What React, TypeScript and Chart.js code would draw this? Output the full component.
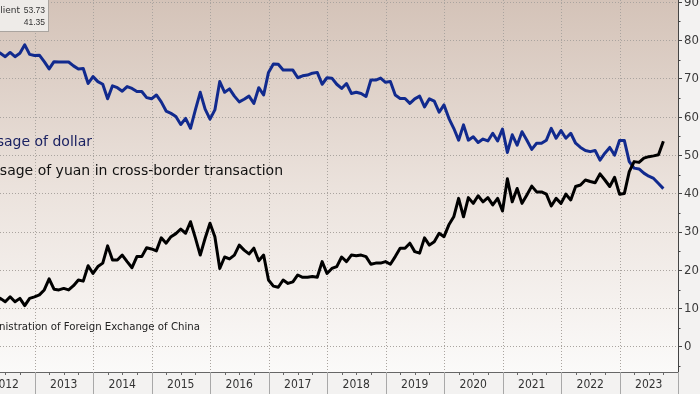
import React, { useEffect, useRef } from "react";
import { Chart, registerables } from "chart.js";

Chart.register(...registerables);

// Monthly data (month-end), starting April 2012
const START_YEAR = 2012;
const START_MONTH = 4;

const dollarShare: number[] = [
  77.5, 76.7, 75.8, 76.9, 75.8, 76.7, 78.9, 76.4, 76.1,
  76.2, 74.5, 72.6, 74.5, 74.4, 74.4, 74.4, 73.4, 72.6, 72.7, 68.8, 70.6,
  69.3, 68.6, 64.8, 68.2, 67.7, 66.8, 68.0, 67.5, 66.7, 66.7, 65.1, 64.8,
  65.8, 64.0, 61.6, 61.0, 60.2, 58.1, 59.7, 57.1, 61.9, 66.5, 62.1, 59.5,
  61.9, 69.3, 66.5, 67.4, 65.5, 64.0, 64.7, 65.5, 63.6, 67.7, 65.8, 71.7,
  73.9, 73.8, 72.3, 72.3, 72.3, 70.3, 70.8, 71.0, 71.5, 71.7, 68.6, 70.3,
  70.2, 68.6, 67.5, 68.8, 66.2, 66.5, 66.2, 65.4, 69.7, 69.7, 70.2, 69.1,
  69.3, 65.8, 64.9, 64.9, 63.6, 64.8, 65.5, 62.7, 64.8, 64.2, 61.3, 63.2,
  59.7, 57.1, 54.0, 58.0, 54.0, 54.9, 53.4, 54.3, 53.8, 55.8, 53.8, 56.9,
  50.8, 55.4, 52.7, 56.2, 54.0, 51.6, 53.2, 53.2, 54.0, 57.1, 54.5, 56.5,
  54.5, 55.8, 53.2, 52.1, 51.3, 51.0, 51.3, 48.8, 50.6, 52.1, 50.1, 53.9,
  53.9, 48.4, 46.7, 46.5, 45.4, 44.6, 44.0, 42.7, 41.35,
];

const yuanShare: number[] = [
  12.2, 12.7, 11.8, 13.1, 11.8, 12.7, 10.8, 12.7, 13.1,
  13.6, 14.9, 17.8, 15.1, 14.9, 15.3, 14.9, 16.0, 17.5, 17.2, 21.2, 19.2,
  21.0, 21.9, 26.4, 22.7, 22.7, 24.0, 22.3, 20.7, 23.6, 23.6, 25.9, 25.6,
  25.1, 28.5, 27.1, 28.8, 29.6, 30.8, 29.7, 32.7, 28.5, 24.0, 28.4, 32.3,
  28.8, 20.5, 23.5, 23.0, 24.0, 26.6, 25.3, 24.3, 25.8, 22.5, 24.0, 17.5,
  15.9, 15.6, 17.5, 16.6, 17.0, 18.8, 18.2, 18.2, 18.4, 18.2, 22.3, 19.2,
  20.5, 21.0, 23.5, 22.3, 24.0, 23.8, 24.0, 23.6, 21.6, 21.9, 21.9, 22.3,
  21.6, 23.6, 25.8, 25.8, 27.1, 24.9, 24.5, 28.5, 26.6, 27.5, 29.7, 28.8,
  31.9, 34.0, 38.8, 34.0, 39.0, 37.5, 39.5, 37.9, 39.0, 37.1, 38.8, 35.5,
  43.9, 37.9, 41.4, 37.5, 39.7, 42.0, 40.5, 40.5, 39.9, 36.8, 38.8, 37.5,
  39.9, 38.4, 41.9, 42.3, 43.6, 43.2, 42.9, 45.2, 43.6, 41.9, 44.3, 39.9,
  40.1, 45.8, 48.4, 48.2, 49.3, 49.7, 49.9, 50.2, 53.73,
];

const yearLabels = ["2012", "2013", "2014", "2015", "2016", "2017", "2018", "2019", "2020", "2021", "2022", "2023"];
const yTickValues = [0, 10, 20, 30, 40, 50, 60, 70, 80, 90];
const yMinorTicks = [-5, 5, 15, 25, 35, 45, 55, 65, 75, 85];

const dollarLabel = "Usage of dollar";
const yuanLabel = "Usage of yuan in cross-border transaction";
const sourceText = "Source: State Administration of Foreign Exchange of China";
const legendLabels = ["Usage of yuan in cross-border transaction by client", "Usage of dollar by client"];
const legendValues = ["53.73", "41.35"];

const OFFSET = 24; // canvas starts 24px left of the visible page

const monthX = (i: number) => START_YEAR + (START_MONTH - 1 + i + 1) / 12;

const bbgPlugin = {
  id: "bbg",
  beforeDraw(chart: any) {
    const { ctx, chartArea: a, width, height } = chart;
    ctx.save();
    ctx.fillStyle = "#f3f2f1";
    ctx.fillRect(0, 0, width, height);
    const g = ctx.createLinearGradient(0, a.top, 0, a.bottom);
    g.addColorStop(0, "#d4c3b8");
    g.addColorStop(0.5, "#ebe2dc");
    g.addColorStop(1, "#fbfaf9");
    ctx.fillStyle = g;
    ctx.fillRect(a.left, a.top, a.right - a.left, a.bottom - a.top);
    ctx.restore();
  },
  beforeDatasetsDraw(chart: any) {
    const { ctx, chartArea: a } = chart;
    const x = chart.scales.x;
    ctx.save();
    ctx.strokeStyle = "#aaa49f";
    ctx.lineWidth = 1;
    ctx.setLineDash([1, 2]);
    for (let i = 1; i < yearLabels.length; i++) {
      const px = Math.round(x.getPixelForValue(START_YEAR + i)) + 0.5;
      ctx.beginPath();
      ctx.moveTo(px, a.top);
      ctx.lineTo(px, a.bottom);
      ctx.stroke();
    }
    ctx.restore();
  },
  afterDraw(chart: any) {
    const { ctx, chartArea: a, height } = chart;
    const x = chart.scales.x;
    const y = chart.scales.y;
    ctx.save();
    // x axis line
    ctx.strokeStyle = "#666";
    ctx.lineWidth = 1;
    ctx.beginPath();
    ctx.moveTo(a.left, a.bottom + 0.5);
    ctx.lineTo(a.right, a.bottom + 0.5);
    ctx.stroke();
    // year separators, quarter ticks, labels
    ctx.font = '12px "Liberation Sans Narrow", "DejaVu Sans Condensed", "DejaVu Sans", sans-serif';
    ctx.fillStyle = "#333";
    ctx.textAlign = "center";
    ctx.textBaseline = "middle";
    for (let i = 0; i < yearLabels.length; i++) {
      const yr = START_YEAR + i;
      const px = Math.round(x.getPixelForValue(yr + 1)) + 0.5;
      ctx.strokeStyle = "#a8a8a8";
      ctx.beginPath();
      ctx.moveTo(px, a.bottom);
      ctx.lineTo(px, height);
      ctx.stroke();
      ctx.strokeStyle = "#666";
      for (let q = 1; q < 4; q++) {
        const qx = Math.round(x.getPixelForValue(yr + q / 4)) + 0.5;
        ctx.beginPath();
        ctx.moveTo(qx, a.bottom);
        ctx.lineTo(qx, a.bottom + 3);
        ctx.stroke();
      }
      ctx.fillText(yearLabels[i], x.getPixelForValue(yr + 0.5), 385);
    }
    // minor y ticks
    ctx.strokeStyle = "#444";
    for (const v of yMinorTicks) {
      const py = Math.round(y.getPixelForValue(v)) + 0.5;
      ctx.beginPath();
      ctx.moveTo(a.right, py);
      ctx.lineTo(a.right + 2.5, py);
      ctx.stroke();
    }
    // annotations
    ctx.textBaseline = "alphabetic";
    ctx.textAlign = "right";
    ctx.font = '14px "DejaVu Sans", sans-serif';
    ctx.fillStyle = "#1b2262";
    ctx.fillText(dollarLabel, 92 + OFFSET, 146);
    ctx.fillStyle = "#111";
    ctx.fillText(yuanLabel, 283 + OFFSET, 175);
    ctx.font = '10.2px "DejaVu Sans", sans-serif';
    ctx.fillStyle = "#222";
    ctx.fillText(sourceText, 200 + OFFSET, 330);
    // legend box
    ctx.fillStyle = "#eeebe8";
    ctx.fillRect(0, -1, 48 + OFFSET, 33);
    ctx.strokeStyle = "#aaa49f";
    ctx.strokeRect(0.5, -1.5, 48 + OFFSET, 33);
    ctx.font = '9px "DejaVu Sans", sans-serif';
    ctx.fillStyle = "#333";
    const labelEnd = 20 + OFFSET;
    const labelStart = labelEnd - ctx.measureText(legendLabels[0]).width;
    ctx.textAlign = "left";
    ctx.fillText(legendLabels[0], labelStart, 13);
    ctx.fillText(legendLabels[1], labelStart, 24.5);
    ctx.font = '8.5px "Liberation Sans", "DejaVu Sans", sans-serif';
    ctx.textAlign = "right";
    ctx.fillText(legendValues[0], 45 + OFFSET, 13);
    ctx.fillText(legendValues[1], 45 + OFFSET, 24.5);
    ctx.restore();
  },
};

export default function App() {
  const ref = useRef<HTMLCanvasElement>(null);
  useEffect(() => {
    document.body.style.margin = "0";
    const dollarPts = dollarShare.map((v, i) => ({ x: monthX(i), y: v }));
    const yuanPts = yuanShare.map((v, i) => ({ x: monthX(i), y: v }));
    const chart = new Chart(ref.current as HTMLCanvasElement, {
      type: "line",
      data: {
        datasets: [
          {
            label: dollarLabel,
            data: dollarPts,
            borderColor: "#112a8e",
            borderWidth: 3,
            pointRadius: 0,
            tension: 0,
            borderJoinStyle: "round",
            order: 2,
          },
          {
            label: yuanLabel,
            data: yuanPts,
            borderColor: "#000000",
            borderWidth: 3,
            pointRadius: 0,
            tension: 0,
            borderJoinStyle: "round",
            order: 1,
          },
        ],
      },
      options: {
        responsive: false,
        animation: false,
        devicePixelRatio: 1,
        layout: { padding: { top: 0, bottom: 22, left: 0, right: 0 } },
        plugins: { legend: { display: false }, tooltip: { enabled: false } },
        scales: {
          x: {
            type: "linear",
            min: START_YEAR,
            max: START_YEAR + yearLabels.length,
            display: false,
          },
          y: {
            position: "right",
            min: -6.53,
            max: 90.6,
            afterBuildTicks: (s: any) => {
              s.ticks = yTickValues.map((v) => ({ value: v }));
            },
            afterFit: (s: any) => {
              s.width = 22;
              s.paddingTop = 0;
              s.paddingBottom = 0;
            },
            grid: {
              color: "#aaa49f",
              lineWidth: 1,
              drawTicks: true,
              tickLength: 4,
              tickColor: "#444",
            },
            border: { display: true, color: "#444", width: 1, dash: [1, 2] },
            ticks: {
              padding: 2,
              color: "#3a3a3a",
              font: { family: '"Liberation Sans Narrow", "DejaVu Sans Condensed", "DejaVu Sans", sans-serif', size: 13 },
            },
          },
        },
      },
      plugins: [bbgPlugin],
    } as any);
    return () => chart.destroy();
  }, []);
  return (
    <div style={{ position: "fixed", left: 0, top: 0, width: 700, height: 394, overflow: "hidden", background: "#f3f2f1" }}>
      <canvas
        ref={ref}
        width={724}
        height={394}
        style={{ position: "absolute", left: -OFFSET, top: 0, width: 724, height: 394 }}
      />
    </div>
  );
}
